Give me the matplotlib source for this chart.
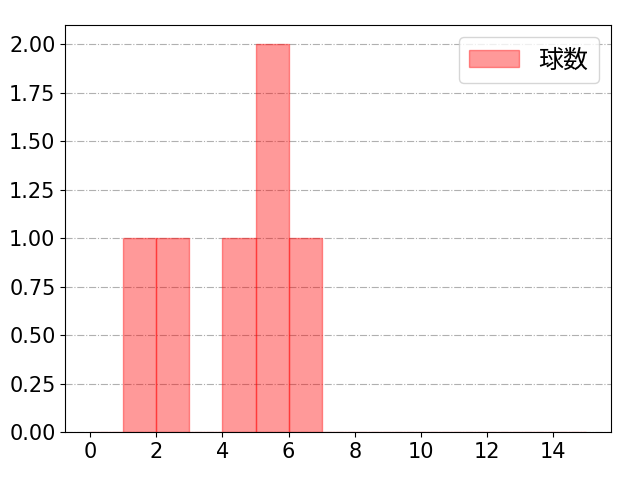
import matplotlib
matplotlib.use("Agg")
import matplotlib.pyplot as plt

plt.rcParams['font.family'] = ['DejaVu Sans', 'Noto Sans CJK JP']
plt.rcParams['font.size'] = 15

# 球数の値 (各ビンの度数から読み取り)
values = [1, 2, 4, 5, 5, 6]
bins = list(range(0, 16))
label = '球数'

fig, ax = plt.subplots(figsize=(6.4, 4.8), dpi=100)
ax.hist(values, bins=bins, color='red', alpha=0.4, edgecolor='red', label=label)
ax.set_xlim(-0.75, 15.75)
ax.set_xticks(range(0, 16, 2))
ax.yaxis.set_major_formatter(matplotlib.ticker.FormatStrFormatter('%.2f'))
ax.grid(axis='y', linestyle='-.', color='#b0b0b0')
ax.set_axisbelow(True)
ax.legend(loc='upper right', prop={'family': ['Noto Sans CJK JP'], 'size': 18})
fig.subplots_adjust(left=0.102, right=0.955, top=0.948, bottom=0.1)
fig.savefig('out.png')
